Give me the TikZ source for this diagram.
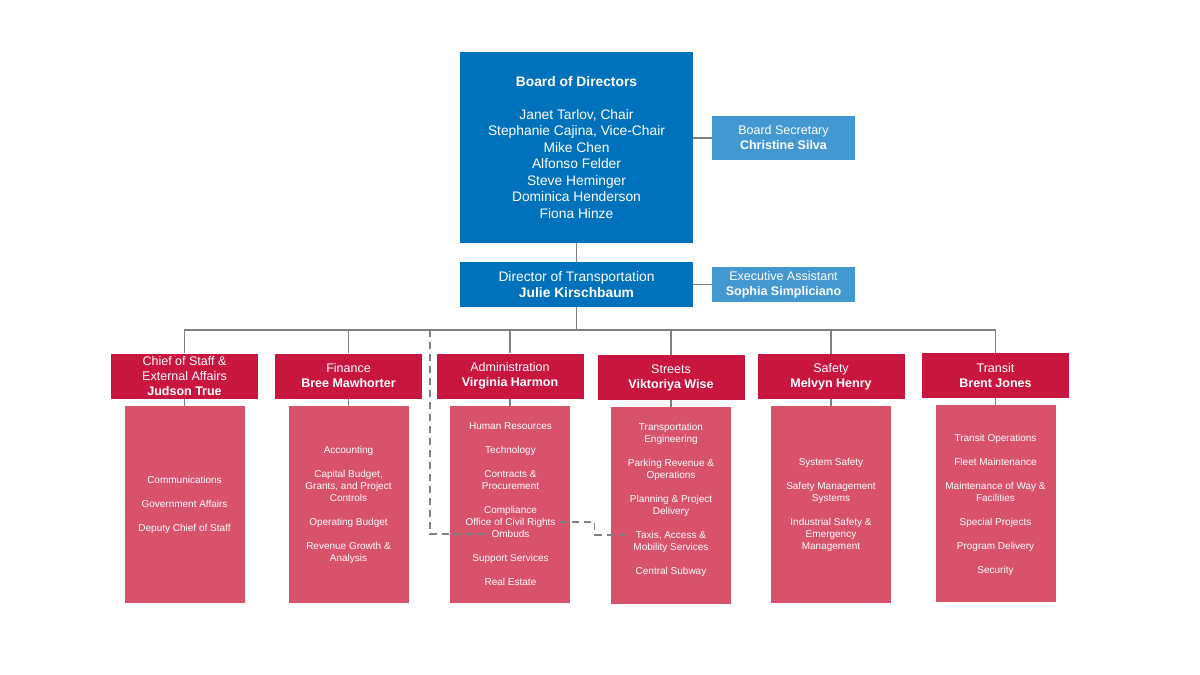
\documentclass[tikz,border=0pt]{standalone}
\usepackage{fontspec}
\setmainfont{Liberation Sans}
\usetikzlibrary{positioning}
\definecolor{boardblue}{RGB}{0,114,188}
\definecolor{aideblue}{RGB}{68,152,210}
\definecolor{headred}{RGB}{200,22,62}
\definecolor{unitred}{RGB}{217,82,108}
\definecolor{linkgray}{RGB}{128,128,128}
\tikzstyle{topbox} = [fill=boardblue, text=white, inner sep=0pt, minimum width=233pt, align=center]
\tikzstyle{aidebox} = [fill=aideblue, text=white, inner sep=0pt, minimum width=143pt, align=center, font=\fontsize{12.5}{15}\selectfont]
\tikzstyle{headbox} = [fill=headred, text=white, inner sep=0pt, minimum width=147pt, minimum height=45pt, align=center, font=\fontsize{12.5}{15}\selectfont]
\tikzstyle{unitbox} = [fill=unitred, inner sep=0pt, minimum width=120pt, minimum height=197pt]
\tikzstyle{unititem} = [text=white, inner sep=0pt, text height=7.2pt, text depth=0pt, font=\fontsize{10}{12}\selectfont]
\tikzstyle{link} = [draw=linkgray, line width=1.9pt]
\tikzstyle{dashlink} = [link, line width=1.7pt, dash pattern=on 7pt off 5pt]

\begin{document}
\begin{tikzpicture}[x=1pt,y=-1pt]
\useasboundingbox (0,0) rectangle (1200,675);
% board and director
\node[topbox, minimum height=191pt, font=\fontsize{13.8}{16.5}\selectfont] (board) at (576.5,147.5)
  {\textbf{Board of Directors}\\[16.5pt]
   Janet Tarlov, Chair\\ Stephanie Cajina, Vice-Chair\\ Mike Chen\\ Alfonso Felder\\
   Steve Heminger\\ Dominica Henderson\\ Fiona Hinze};
\node[aidebox, minimum height=44pt] (secretary) at (783.5,138) {Board Secretary\\\textbf{Christine Silva}};
\node[topbox, minimum height=45pt, font=\fontsize{13.8}{16}\selectfont] (director) at (576.5,284.5)
  {Director of Transportation\\\textbf{Julie Kirschbaum}};
\node[aidebox, minimum height=35pt] (assistant) at (783.5,284.5) {Executive Assistant\\\textbf{Sophia Simpliciano}};
\draw[link] (secretary.west -| board.east) -- (secretary.west);
\draw[link] (board.south) -- (director.north);
\draw[link] (director) -- (assistant);
% divisions
\node[headbox] (chief) at (184.5,376) {Chief of Staff \&\\External Affairs\\\textbf{Judson True}};
\node[headbox] (finance) at (348.5,376) {Finance\\\textbf{Bree Mawhorter}};
\node[headbox] (admin) at (510,376) {Administration\\\textbf{Virginia Harmon}};
\node[headbox] (streets) at (671,377.5) {Streets\\\textbf{Viktoriya Wise}};
\node[headbox] (safety) at (831,376.5) {Safety\\\textbf{Melvyn Henry}};
\node[headbox] (transit) at (995.5,375.5) {Transit\\\textbf{Brent Jones}};
\foreach \h in {chief,finance,admin,streets,safety,transit}
  \node[unitbox, below=7pt of \h] (\h-list) {};
% units
\foreach \y/\t [count=\i] in {480/Communications, 504/Government Affairs, 528/Deputy Chief of Staff}
  \node[unititem] (chief-\i) at (184.5,\y) {\t};
\foreach \y/\t [count=\i] in {450/Accounting, 474/{Capital Budget,}, 486/{Grants, and Project}, 498/Controls,
    522/Operating Budget, 546/Revenue Growth \&, 558/Analysis}
  \node[unititem] (finance-\i) at (348.5,\y) {\t};
\foreach \y/\t [count=\i] in {426/Human Resources, 450/Technology, 474/Contracts \&, 486/Procurement,
    510/Compliance, 522/Office of Civil Rights, 534/Ombuds, 558/Support Services, 582/Real Estate}
  \node[unititem] (admin-\i) at (510.5,\y) {\t};
\foreach \y/\t [count=\i] in {427/Transportation, 439/Engineering, 463/Parking Revenue \&, 475/Operations,
    499/Planning \& Project, 511/Delivery, 535/{Taxis, Access \&}, 547/Mobility Services, 571/Central Subway}
  \node[unititem] (streets-\i) at (671,\y) {\t};
\foreach \y/\t [count=\i] in {462/System Safety, 486/Safety Management, 498/Systems,
    522/Industrial Safety \&, 534/Emergency, 546/Management}
  \node[unititem] (safety-\i) at (831,\y) {\t};
\foreach \y/\t [count=\i] in {438/Transit Operations, 462/Fleet Maintenance, 486/Maintenance of Way \&,
    498/Facilities, 522/Special Projects, 546/Program Delivery, 570/Security}
  \node[unititem] (transit-\i) at (995.5,\y) {\t};
% connectors
\coordinate (bus) at (576.5,330);
\coordinate (dashtop) at (430,330);
\draw[link] (director.south) -- (bus);
\foreach \h in {chief,finance,admin,streets,safety,transit} {
  \draw[link] (bus) -| (\h.north);
  \draw[link] (\h.south) -- (\h-list.north);
}
\draw[dashlink] (dashtop) |- ([xshift=-3pt]admin-7.west);
\draw[dashlink] ([xshift=4pt]admin-6.east) -- ++(35,0) |- ([xshift=-4pt]streets-7.west);
\end{tikzpicture}
\end{document}
